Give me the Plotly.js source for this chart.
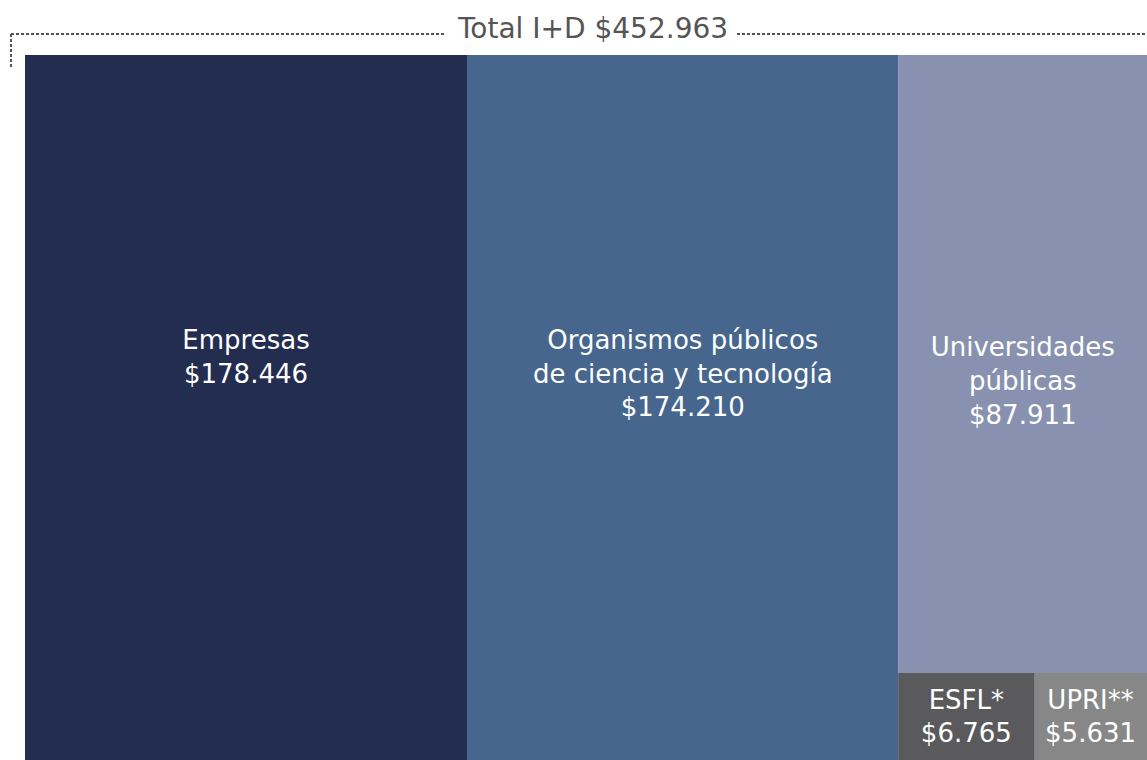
<!DOCTYPE html>
<html><head><meta charset="utf-8">
<script src="https://cdn.plot.ly/plotly-3.0.1.min.js"></script>
<style>html,body{margin:0;padding:0;background:#fff}#chart{width:1147px;height:760px}</style>
</head><body><div id="chart"></div>
<script>
// Data
const ids     = ['Empresas', 'Organismos', 'GrupoU', 'Universidades', 'GrupoP', 'ESFL', 'UPRI'];
const labels  = ['Empresas', 'Organismos públicos<br>de ciencia y tecnología', '', 'Universidades<br>públicas', '', 'ESFL*', 'UPRI**'];
const parents = ['', '', '', 'GrupoU', 'GrupoU', 'GrupoP', 'GrupoP'];
const values  = [178446, 174210, 0, 87911, 0, 6765, 5631];
const titleLabel = 'Total I+D';

// Style
const colors = ['#232d4f', '#46668e', '#8892b0', '#8892b0', '#5a5a5c', '#5a5a5c', '#878787'];
const padTop    = [0, 0, 0, 1, 0, 0, 0];
const padBottom = [3, 2, 0, 0, 0, 0, 0];

const fmt = n => '$' + String(n).replace(/\B(?=(\d{3})+(?!\d))/g, '.');
const total = values.reduce((a, b) => a + b, 0);
const text = ids.map((id, i) => {
  if (!labels[i]) return '';
  let t = labels[i] + '<br>' + fmt(values[i]);
  for (let k = 0; k < padTop[i]; k++) t = '\u00a0<br>' + t;
  for (let k = 0; k < padBottom[i]; k++) t += '<br>\u00a0';
  return t;
});

const W = 1147, H = 760;
const px = x => x / W, py = y => 1 - y / H;
const FONT = 'DejaVu Sans';
const dashC = '#555555';
const dashStyle = {color: dashC, width: 2, dash: '3px,2px'};

const trace = {
  type: 'treemap',
  ids: ids, labels: labels, parents: parents, values: values,
  branchvalues: 'remainder',
  sort: false,
  text: text,
  textinfo: 'text',
  textposition: 'middle center',
  textfont: {family: FONT, size: 26, color: '#ffffff'},
  tiling: {packing: 'slice-dice', pad: 0},
  marker: {colors: colors, line: {width: 0}, pad: {t: 0, l: 0, r: 0, b: 0}},
  root: {color: 'rgba(0,0,0,0)'},
  pathbar: {visible: false},
  hoverinfo: 'none',
  domain: {x: [px(25), 1], y: [0, py(55)]}
};

const layout = {
  width: W, height: H,
  margin: {l: 0, r: 0, t: 0, b: 0},
  paper_bgcolor: '#ffffff',
  showlegend: false,
  annotations: [{
    xref: 'paper', yref: 'paper', x: px(592), y: py(29),
    xanchor: 'center', yanchor: 'middle', showarrow: false,
    text: titleLabel + ' ' + fmt(total),
    font: {family: FONT, size: 28, color: '#555555'}
  }],
  shapes: [
    {type: 'line', xref: 'paper', yref: 'paper', x0: px(11), x1: px(445), y0: py(34), y1: py(34), line: dashStyle},
    {type: 'line', xref: 'paper', yref: 'paper', x0: px(11), x1: px(11), y0: py(34), y1: py(68), line: dashStyle},
    {type: 'line', xref: 'paper', yref: 'paper', x0: px(737), x1: 1, y0: py(34), y1: py(34), line: dashStyle}
  ]
};

Plotly.newPlot('chart', [trace], layout, {displayModeBar: false, staticPlot: true});
</script>
</body></html>
